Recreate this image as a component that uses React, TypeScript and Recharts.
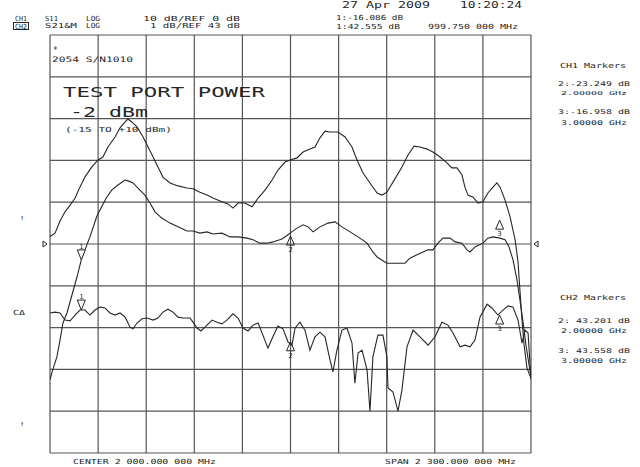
import React from "react";
import {
  CartesianGrid,
  Line,
  LineChart,
  ReferenceDot,
  XAxis,
  YAxis,
} from "recharts";

// Sweep: center 2 000 MHz, span 2 300 MHz
const freqTicks = [850, 1080, 1310, 1540, 1770, 2000, 2230, 2460, 2690, 2920, 3150];
// CH1: 10 dB/div, ref 0 dB at centre line
const ch1Ticks = [-50, -40, -30, -20, -10, 0, 10, 20, 30, 40, 50];

// CH1 upper trace (memory)
const ch1UpperFreq = [
  850, 874, 898, 922, 946, 970, 993, 1017, 1049, 1080, 1103, 1127, 1161, 1185, 1209, 1223,
  1241, 1266, 1295, 1319, 1343, 1366, 1390, 1424, 1462, 1505, 1534, 1567, 1601, 1629, 1672,
  1701, 1725, 1749, 1782, 1816, 1845, 1878, 1912, 1940, 1974, 1998, 2031, 2060, 2093, 2117,
  2141, 2165, 2189, 2227, 2261, 2294, 2318, 2347, 2380, 2414, 2438, 2461, 2490, 2533, 2562,
  2591, 2619, 2653, 2681, 2715, 2748, 2772, 2796, 2820, 2834, 2849, 2873, 2897, 2920, 2944,
  2968, 2987, 3002, 3026, 3050, 3074, 3088, 3097, 3107, 3117, 3131, 3150,
];
const ch1UpperDb = [
  1.8, 2.6, 5.5, 7.7, 9.3, 11.0, 13.6, 16.0, 18.4, 20.1, 20.8, 23.2, 25.6, 27.8, 29.2, 29.9,
  29.2, 28.0, 25.6, 23.2, 20.8, 18.4, 16.0, 14.6, 13.9, 13.4, 13.2, 12.4, 11.7, 11.0, 10.1,
  9.6, 8.6, 9.8, 9.8, 8.9, 11.0, 12.9, 15.3, 17.7, 19.6, 20.1, 20.6, 22.0, 22.7, 23.2,
  25.4, 27.0, 26.8, 26.8, 25.6, 23.2, 20.1, 17.0, 14.6, 12.2, 11.7, 12.4, 14.8, 18.4, 21.3,
  23.4, 23.2, 22.7, 22.0, 20.8, 19.4, 18.2, 18.2, 16.5, 13.6, 11.7, 11.2, 9.8, 10.1, 12.2,
  13.6, 14.6, 13.6, 10.5, 6.5, 1.0, -4.3, -11.0, -18.2, -24.2, -29.7, -32.1,
];

// CH1 lower trace (S11 data)
const ch1LowerFreq = [
  850, 860, 883, 898, 912, 931, 955, 979, 1003, 1017, 1041, 1073, 1097, 1121, 1145, 1175,
  1209, 1223, 1247, 1280, 1304, 1328, 1352, 1384, 1424, 1462, 1505, 1534, 1567, 1601, 1629,
  1672, 1711, 1749, 1792, 1821, 1854, 1888, 1916, 1959, 1988, 1998, 2031, 2060, 2084, 2108,
  2141, 2179, 2213, 2246, 2285, 2323, 2366, 2394, 2414, 2461, 2509, 2547, 2571, 2605, 2634,
  2657, 2681, 2705, 2729, 2763, 2787, 2820, 2844, 2858, 2882, 2920, 2944, 2968, 3002, 3026,
  3045, 3064, 3083, 3097, 3112, 3126, 3141, 3150,
];
const ch1LowerDb = [
  -32.5, -30.6, -27.0, -23.0, -18.9, -16.5, -12.2, -7.9, -3.1, -1.4, 1.7, 6.5, 8.9, 11.2, 12.9,
  14.1, 15.3, 15.1, 14.6, 12.9, 11.7, 9.8, 7.7, 6.2, 5.0, 4.1, 3.1, 3.1, 2.6, 2.9, 2.4, 2.6,
  1.7, 1.7, 1.4, 1.0, 0.2, 0.2, 0.5, 1.2, 2.2, 2.6, 3.8, 4.6, 4.1, 2.9, 4.1, 5.0, 5.3, 4.1,
  2.9, 1.7, 0.2, -1.9, -3.1, -4.6, -4.6, -4.6, -3.4, -2.6, -1.9, -1.4, -1.4, 0.2, 1.4, 1.4,
  0.5, 0.2, -1.4, -1.9, -0.7, 0.2, 1.4, 1.7, 1.4, 1.0, -0.7, -3.8, -8.6, -13.4, -18.7, -24.2,
  -29.0, -31.6,
];

// CH2: S21, 1 dB/div, ref 43 dB
const ch2Freq = [
  850, 874, 898, 922, 946, 970, 993, 1017, 1041, 1065, 1089, 1113, 1137, 1161, 1185, 1209,
  1233, 1247, 1266, 1290, 1314, 1343, 1366, 1390, 1414, 1438, 1462, 1486, 1519, 1534, 1553,
  1572, 1591, 1625, 1649, 1672, 1696, 1725, 1749, 1773, 1797, 1821, 1845, 1868, 1892, 1916,
  1940, 1964, 1988, 2007, 2022, 2045, 2069, 2093, 2117, 2141, 2165, 2189, 2203, 2222, 2246,
  2270, 2294, 2308, 2323, 2342, 2366, 2380, 2394, 2418, 2442, 2461, 2466, 2490, 2514, 2533,
  2557, 2586, 2619, 2658, 2691, 2724, 2753, 2777, 2811, 2834, 2858, 2882, 2906, 2940, 2963,
  2992, 3016, 3040, 3064, 3088, 3107, 3121, 3136, 3150,
];
const ch2Db = [
  43.35, 43.37, 43.35, 43.18, 43.16, 43.3, 43.42, 43.42, 43.3, 43.42, 43.49, 43.47, 43.35,
  43.3, 43.35, 43.25, 43.01, 42.97, 43.11, 43.21, 43.23, 43.18, 43.23, 43.37, 43.44, 43.37,
  43.25, 43.23, 43.23, 43.13, 42.99, 42.92, 43.01, 43.18, 43.13, 43.09, 43.18, 43.33, 43.23,
  42.99, 42.92, 43.06, 43.11, 42.82, 42.51, 42.78, 43.04, 42.97, 42.66, 42.58, 42.99, 43.13,
  42.94, 42.46, 42.78, 42.89, 42.78, 42.22, 41.94, 42.46, 42.94, 42.99, 42.63, 41.67, 42.39,
  42.46, 41.99, 41.0, 42.3, 42.82, 42.82, 42.3, 41.56, 41.46, 41.0, 41.51, 42.54, 42.94,
  42.78, 42.58, 42.78, 43.13, 43.06, 42.87, 42.54, 42.58, 42.54, 42.7, 43.25, 43.56, 43.47,
  43.3, 43.42, 43.52, 43.49, 43.18, 42.63, 42.94, 42.87, 41.75,
];

// markers: frequency (MHz) and where the marker tip sits on screen
const markerFreq = [999.75, 2000, 3000];
const ch1MarkerDb = [-3.8, 1.9, 5.7];
const ch2MarkerDb = [43.42, 42.66, 43.3];
const markerDir = ["down", "up", "up"];

const zip = (f: number[], v: number[]) =>
  f.slice(0, Math.min(f.length, v.length)).map((x, i) => ({ f: x, v: v[i] }));

const upper = zip(ch1UpperFreq, ch1UpperDb);
const lower = zip(ch1LowerFreq, ch1LowerDb);
const s21 = zip(ch2Freq, ch2Db);

const INK = "#262626";
const MONO = "'DejaVu Sans Mono', monospace";

function Marker(props: any) {
  const { cx, cy, dir, label } = props;
  if (cx == null || cy == null) return null;
  if (dir === "down") {
    return (
      <g>
        <polygon
          points={`${cx - 4},${cy - 10} ${cx + 4},${cy - 10} ${cx},${cy}`}
          fill="white"
          stroke={INK}
          strokeWidth={1}
        />
        <text x={cx} y={cy - 11} fontSize={7} fontFamily={MONO} textAnchor="middle" fill={INK}>
          {label}
        </text>
      </g>
    );
  }
  return (
    <g>
      <polygon
        points={`${cx - 4},${cy + 9} ${cx + 4},${cy + 9} ${cx},${cy}`}
        fill="none"
        stroke={INK}
        strokeWidth={1}
      />
      <text x={cx} y={cy + 16} fontSize={7} fontFamily={MONO} textAnchor="middle" fill={INK}>
        {label}
      </text>
    </g>
  );
}

function RefLeft(props: any) {
  const { cx, cy } = props;
  if (cx == null) return null;
  return (
    <polygon
      points={`${cx - 7},${cy - 3} ${cx - 3},${cy} ${cx - 7},${cy + 3}`}
      fill="none"
      stroke={INK}
      strokeWidth={1}
    />
  );
}

function RefRight(props: any) {
  const { cx, cy } = props;
  if (cx == null) return null;
  return (
    <polygon
      points={`${cx + 7},${cy - 3} ${cx + 3},${cy} ${cx + 7},${cy + 3}`}
      fill="none"
      stroke={INK}
      strokeWidth={1}
    />
  );
}

type Label = [string, number, number, number, number?];

// free text: string, x, baseline, font size, stretched width
const labels: Label[] = [
  ["S11", 45, 21, 7, 13],
  ["LOG", 86, 21, 7, 14],
  ["10 dB/REF 0 dB", 143, 21, 7, 97],
  ["S21&M", 45, 28, 7, 32],
  ["LOG", 86, 28, 7, 14],
  ["1 dB/REF 43 dB", 150, 28, 7, 90],
  ["27 Apr 2009", 342, 8, 8, 88],
  ["10:20:24", 460, 8, 8, 62],
  ["1:-16.086 dB", 336, 20, 7, 67],
  ["1:42.555 dB", 336, 29, 7, 64],
  ["999.750 000 MHz", 428, 29, 7, 90],
  ["CH1 Markers", 560, 68, 7, 66],
  ["2:-23.249 dB", 558, 86, 6.5, 72],
  ["2.00000 GHz", 561, 94.5, 5.5, 66],
  ["3:-16.958 dB", 558, 114, 6.5, 72],
  ["3.00000 GHz", 561, 125, 6.5, 66],
  ["CH2 Markers", 560, 300, 7, 66],
  ["2: 43.201 dB", 558, 323, 6.5, 72],
  ["2.00000 GHz", 561, 333, 6.5, 66],
  ["3: 43.558 dB", 558, 353, 6.5, 72],
  ["3.00000 GHz", 561, 363, 6.5, 66],
  ["CENTER 2 000.000 000 MHz", 73, 464, 7, 143],
  ["SPAN 2 300.000 000 MHz", 385, 464, 7, 131],
  ["CΔ", 13, 315, 7, 12],
  ["↑", 20, 220, 7],
  ["↑", 20, 426, 7],
  ["*", 53, 53, 8],
  ["2054 S/N1010", 52, 62, 7.5, 81],
  ["TEST PORT POWER", 63, 97, 14, 202],
  ["-2 dBm", 70, 117, 14, 78],
  ["(-15 TO +10 dBm)", 65, 132, 7, 107],
];

export default function App() {
  return (
    <div style={{ position: "absolute", left: 0, top: 0, width: 640, height: 467, background: "#fff" }}>
      <LineChart
        width={640}
        height={467}
        margin={{ top: 35, right: 109, bottom: 14, left: 50 }}
      >
        <XAxis
          type="number"
          dataKey="f"
          domain={[850, 3150]}
          ticks={freqTicks}
          allowDataOverflow
          hide
        />
        <YAxis yAxisId={0} type="number" domain={[-50, 50]} ticks={ch1Ticks} allowDataOverflow hide />
        <YAxis yAxisId="ch2" type="number" domain={[40, 50]} allowDataOverflow hide />
        <CartesianGrid stroke="#555" strokeWidth={1.2} />
        <Line data={upper} dataKey="v" stroke={INK} strokeWidth={1.1} dot={false} isAnimationActive={false} />
        <Line data={lower} dataKey="v" stroke={INK} strokeWidth={1.1} dot={false} isAnimationActive={false} />
        <Line
          data={s21}
          dataKey="v"
          yAxisId="ch2"
          stroke={INK}
          strokeWidth={1.1}
          dot={false}
          isAnimationActive={false}
        />
        {markerFreq.map((f, i) => (
          <ReferenceDot
            key={`c1-${i}`}
            x={f}
            y={ch1MarkerDb[i]}
            ifOverflow="visible"
            shape={(p: any) => <Marker {...p} dir={markerDir[i]} label={String(i + 1)} />}
          />
        ))}
        {markerFreq.map((f, i) => (
          <ReferenceDot
            key={`c2-${i}`}
            x={f}
            y={ch2MarkerDb[i]}
            yAxisId="ch2"
            ifOverflow="visible"
            shape={(p: any) => <Marker {...p} dir={markerDir[i]} label={String(i + 1)} />}
          />
        ))}
        <ReferenceDot x={850} y={0} ifOverflow="visible" shape={(p: any) => <RefLeft {...p} />} />
        <ReferenceDot x={3150} y={0} ifOverflow="visible" shape={(p: any) => <RefRight {...p} />} />
      </LineChart>
      <svg
        width={640}
        height={467}
        style={{ position: "absolute", left: 0, top: 0, pointerEvents: "none" }}
      >
        <text x={15} y={21} fontSize={7} fontFamily={MONO} fill={INK} textLength={12} lengthAdjust="spacingAndGlyphs">
          CH1
        </text>
        <line x1={15} x2={27} y1={22.5} y2={22.5} stroke={INK} strokeWidth={1} />
        <rect x={13.5} y={22.5} width={15} height={7} fill="none" stroke={INK} strokeWidth={1} />
        <text x={15} y={28.5} fontSize={7} fontFamily={MONO} fill={INK} textLength={12} lengthAdjust="spacingAndGlyphs">
          CH2
        </text>
        {labels.map(([s, x, y, size, len], i) => (
          <text
            key={i}
            x={x}
            y={y}
            fontSize={size}
            fontFamily={MONO}
            fill={INK}
            textLength={len}
            lengthAdjust={len ? "spacingAndGlyphs" : undefined}
          >
            {s}
          </text>
        ))}
      </svg>
    </div>
  );
}
